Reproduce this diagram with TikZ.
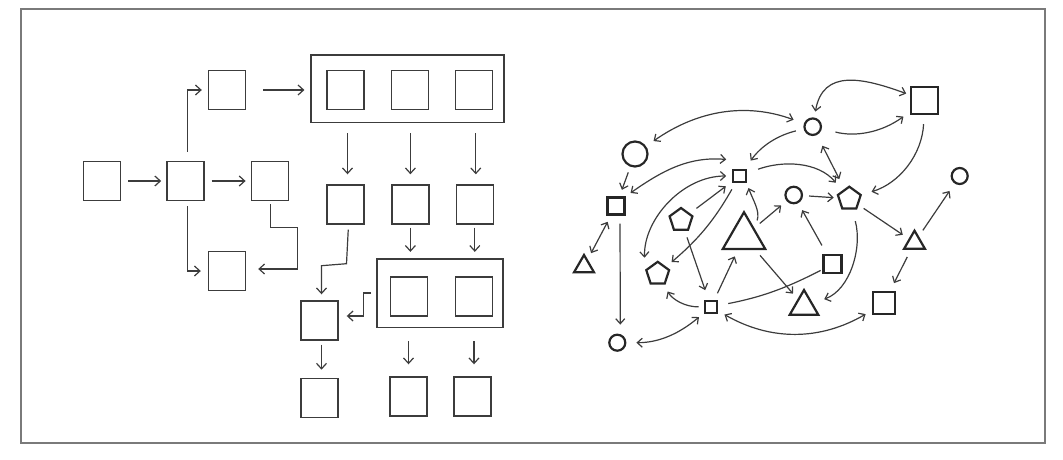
\documentclass[tikz,border=0pt]{standalone}
\usetikzlibrary{arrows.meta,shapes.geometric,positioning}
\definecolor{ink}{HTML}{3C3C3C}
\definecolor{rim}{HTML}{7A7A7A}
\tikzset{
  box/.style={rectangle, draw=ink, line width=1.4pt, minimum width=37pt, minimum height=39pt, inner sep=0pt},
  group/.style={rectangle, draw=ink, line width=1.6pt, inner sep=0pt},
  arrow/.style={-{Straight Barb[length=5.5pt,width=10pt]}, line width=1.2pt, color=ink},
  sq/.style={rectangle, draw=black!85, line width=2.2pt, inner sep=0pt},
  dot/.style={circle, draw=black!85, line width=2.2pt, inner sep=0pt},
  pent/.style={regular polygon, regular polygon sides=5, draw=black!85, line width=2.2pt, inner sep=0pt, minimum size=24pt},
  tri/.style={regular polygon, regular polygon sides=3, draw=black!85, line width=2.2pt, inner sep=0pt},
  link/.style={-{Straight Barb[length=5pt,width=9pt]}, line width=1.2pt, color=ink, shorten <=7pt, shorten >=7pt},
  both/.style={link, {Straight Barb[length=5pt,width=9pt]}-{Straight Barb[length=5pt,width=9pt]}}
}
\begin{document}
\begin{tikzpicture}[x=1pt, y=-1pt]
  \useasboundingbox (0,0) rectangle (1063,460);
  \draw[rim, line width=2pt] (21,9) rectangle (1044.7,442.7);

  % flow chart
  \node[box] (src) at (102,181) {};
  \node[box, right=45pt of src] (hub) {};
  \node[box, right=46pt of hub] (fork) {};
  \node[box] (up) at (227,90) {};
  \node[box] (down) at (227,271) {};

  \node[group, minimum width=193pt, minimum height=67pt] (grpA) at (407.7,88.8) {};
  \node[box] (a1) at (345.5,90) {};
  \node[box, right=26pt of a1] (a2) {};
  \node[box, right=25.5pt of a2] (a3) {};

  \node[box] (r1) at (345.5,204.5) {};
  \node[box, right=26.5pt of r1] (r2) {};
  \node[box, right=26pt of r2] (r3) {};

  \node[group, minimum width=126pt, minimum height=68.6pt] (grpB) at (440,293) {};
  \node[box] (b1) at (409,296.5) {};
  \node[box, right=26.5pt of b1] (b2) {};

  \node[box] (merge) at (319.5,320.5) {};
  \node[box, below=37pt of merge] (e1) {};
  \node[box] (e2) at (408.5,396.5) {};
  \node[box] (e3) at (472.5,396.5) {};

  \draw[arrow, shorten <=7pt, shorten >=5pt] (src) -- (hub);
  \draw[arrow, shorten <=7pt, shorten >=5pt] (hub) -- (fork);
  \draw[arrow, shorten <=9pt, shorten >=6pt] ([xshift=2pt]hub.north) |- (up);
  \draw[arrow, shorten <=5pt, shorten >=7pt] ([xshift=2pt]hub.south) |- (down);
  \draw[arrow, shorten <=17pt, shorten >=6pt] (up.east) -- (up.east -| grpA.west);
  \draw[arrow, shorten <=3pt, shorten >=12pt] ([xshift=1pt]fork.south) -- ++(0,26) -- ++(27,0) |- ([yshift=2pt]down.east);

  \draw[arrow, shorten <=10pt, shorten >=10pt] ([xshift=2pt]r1.north |- grpA.south) -- ([xshift=2pt]r1.north);
  \draw[arrow, shorten <=10pt, shorten >=10pt] (r2.north |- grpA.south) -- (r2.north);
  \draw[arrow, shorten <=10pt, shorten >=10pt] ([xshift=1pt]r3.north |- grpA.south) -- ([xshift=1pt]r3.north);
  \draw[arrow, shorten <=3pt, shorten >=6pt] (r2.south) -- (r2.south |- grpB.north);
  \draw[arrow, shorten <=3pt, shorten >=6pt] (r3.south) -- (r3.south |- grpB.north);
  \draw[arrow, shorten <=5pt, shorten >=6pt] ([xshift=3pt]r1.south) -- ++(-2,39) -- ++(-25,2) -- ([xshift=2pt]merge.north);
  \draw[arrow, shorten <=5pt, shorten >=8pt] (grpB.west) -- ++(-13,0) |- ([yshift=4.5pt]merge.east);
  \draw[arrow, shorten <=4pt, shorten >=8pt] ([xshift=2pt]merge.south) -- ([xshift=2pt]e1.north);
  \draw[arrow, shorten <=13pt, shorten >=12pt] (e2.north |- grpB.south) -- (e2.north);
  \draw[arrow, shorten <=13pt, shorten >=12pt] ([xshift=1.5pt]e3.north |- grpB.south) -- ([xshift=1.5pt]e3.north);

  % network
  \node[dot, minimum size=25pt] (c1) at (635,154) {};
  \node[sq, minimum size=17pt] (s1) at (616,206) {};
  \node[tri, minimum size=23pt] (t1) at (584,266.5) {};
  \node[dot, minimum size=16pt] (c2) at (617.3,342.7) {};
  \node[sq, minimum size=12.4pt] (s2) at (739.5,176) {};
  \node[pent] (p1) at (681,220) {};
  \node[tri, minimum size=49pt] (t2) at (744,236.7) {};
  \node[pent] (p2) at (657.7,273.8) {};
  \node[sq, minimum size=12.6pt] (s3) at (711,307) {};
  \node[dot, minimum size=16.5pt] (c3) at (812.7,126.7) {};
  \node[sq, minimum size=27.3pt] (s4) at (924.7,100.3) {};
  \node[dot, minimum size=16.5pt] (c4) at (793.7,195) {};
  \node[pent] (p3) at (849.3,198.7) {};
  \node[dot, minimum size=16pt] (c5) at (959.7,176) {};
  \node[tri, minimum size=24pt] (t3) at (914.5,242.7) {};
  \node[sq, minimum size=18pt] (s5) at (832.5,264.3) {};
  \node[tri, minimum size=33pt] (t4) at (804,306.5) {};
  \node[sq, minimum size=22pt] (s6) at (883.8,303.3) {};

  \draw[both, shorten <=9pt, shorten >=11pt] (c1) to[out=35, in=160] (c3);
  \draw[link, shorten <=6pt] (c1) -- (s1);
  \draw[both] (s1) -- (t1);
  \draw[link, shorten <=8pt, shorten >=9pt] ([xshift=4pt]s1.south) -- ([xshift=3pt]c2.north);
  \draw[both, shorten <=10pt, shorten >=6pt] (c2) to[out=0, in=220] (s3);
  \draw[both, shorten <=6pt, shorten >=6pt] (s1.north east) to[out=35, in=175] ([yshift=16pt]s2.west);
  \draw[both, shorten <=12pt, shorten >=6pt] (p2.corner 2) to[out=92, in=180] (s2);
  \draw[link, shorten <=8pt, shorten >=8pt] (p1) -- (s2);
  \draw[link] (s2) to[bend left=10] (p2);
  \draw[link, shorten >=10pt] (p1) -- (s3);
  \draw[link] (s3) -- (t2);
  \draw[link, shorten <=5pt, shorten >=8pt] (s3) to[bend left=30] (p2);
  \draw[link, shorten <=8pt, shorten >=5pt] (t2.40) to[out=70, in=-70] (s2.south east);
  \draw[link] (t2) -- (c4);
  \draw[link] (t2) -- (t4);
  \draw[both] (s3) to[bend right=30] (s6);
  \draw[line width=1.2pt, ink, shorten <=10pt, shorten >=2pt] (s3) to[bend right=8] (s5);
  \draw[link, shorten <=8pt, shorten >=10pt] (c3) to[bend right=20] (s2);
  \draw[link, shorten <=12pt, shorten >=10pt] (s2) to[out=20, in=130] (p3);
  \draw[both, shorten <=12pt, shorten >=11pt] (c3) -- (p3);
  \draw[both, shorten <=6pt, shorten >=4pt] (c3) to[out=80, in=160, looseness=1.3] (s4);
  \draw[link, shorten <=14pt, shorten >=8pt] (c3) to[bend right=25] (s4);
  \draw[link, shorten <=9pt, shorten >=10pt] (s4) to[bend left=35] (p3);
  \draw[link, shorten <=6pt, shorten >=4pt] (c4) -- (p3);
  \draw[link, shorten <=10pt, shorten >=8pt] (s5) -- (c4);
  \draw[link, shorten <=6pt] (p3) -- (t3);
  \draw[link, shorten >=9pt] (t3) -- (c5);
  \draw[link, shorten <=8pt, shorten >=9pt] (t3) -- (s6);
  \draw[link, shorten <=12pt, shorten >=12pt] (p3) to[out=-75, in=20] (t4);
\end{tikzpicture}
\end{document}
